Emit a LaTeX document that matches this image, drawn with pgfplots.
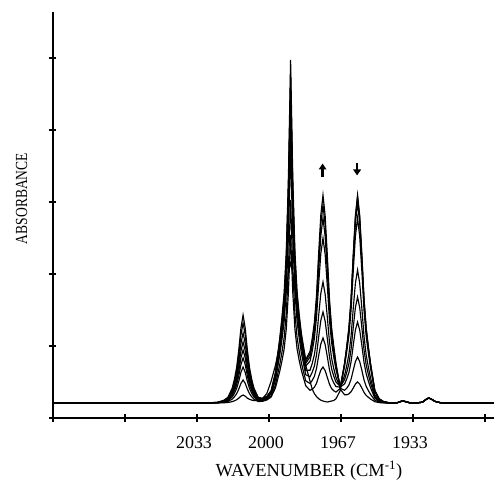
\documentclass[border=0pt]{standalone}
\usepackage{fontspec}
\setmainfont{Liberation Serif}
\usepackage{pgfplots}
\pgfplotsset{compat=1.18}
\usepackage{pgfplotstable}
\usetikzlibrary{arrows.meta}

% IR spectra series, baseline offset 15
\pgfplotstableread{
wn   k0    k1    k2    k3    k4    k5    k6    k7    k8
2100 15    15    15    15    15    15    15    15    15
2030 15    15    15    15    15    15    15    15    15
2024 15    15.2  15.3  15.3  15.4  15.4  15.5  15.6  15.6
2021 15.2  15.7  16.1  16.4  16.6  16.8  17.1  17.4  17.6
2019 15.5  16.5  17.3  17.9  18.4  19.0  19.6  20.2  20.7
2017 16.4  18.9  21.1  22.7  24.0  25.4  26.9  28.6  30.0
2016 17.2  21.2  24.7  27.2  29.3  31.5  33.9  36.6  38.8
2015 18.2  24.2  29.4  33.0  36.2  39.4  43.0  47.0  50.2
2014 19.8  28.8  36.6  42.0  46.8  51.6  57.0  63.0  67.8
2013 21.8  34.6  45.6  53.3  60.0  66.9  74.5  83.0  89.8
2012 23    38    51    60    68    76    85    95    103
2011 21.8  34.6  45.6  53.3  60.0  66.9  74.5  83.0  89.8
2010 19.8  28.8  36.6  42.0  46.8  51.6  57.0  63.0  67.8
2009 18.7  24.2  29.4  33.0  36.2  39.4  43.0  47.0  50.2
2008 17.9  21.2  24.7  27.2  29.3  31.5  33.9  36.6  38.8
2007 17.4  18.9  21.1  22.7  24.0  25.4  26.9  28.6  30.0
2005 17.5  16.5  17.3  17.9  18.4  19.0  19.6  20.2  20.7
2003 19.5  16.7  17.3  17.9  18.3  18.6  19.0  19.4  19.7
2001 24.5  18.0  18.6  19.5  20.1  20.5  20.8  21.3  21.6
1999 36.8  21.0  22.2  24.1  25.0  25.7  26.3  26.9  27.4
1997 52.8  30.1  33.3  37.8  40.2  42.0  43.4  44.7  45.9
1995 73.8  46.9  53.6  63.1  68.2  72.0  74.9  77.7  80.2
1994 89.2  57.0  65.8  78.3  85.0  90.0  93.8  97.5  100.8
1993 110.2 68.8  80.0  96.0  104.6 111.0 115.8 120.6 124.8
1992 129.8 88.9  104.3 126.3 138.2 147.0 153.6 160.2 165.9
1991 145.2 125.9 149.0 182.0 199.8 213.0 222.9 232.8 241.4
1990 155   183   218   268   295   315   330   345   358
1989 145.2 125.9 149.0 182.0 199.8 213.0 222.9 232.8 241.4
1988 129.8 89.0  104.6 126.7 138.7 147.7 154.3 161.0 166.7
1987 110.2 69.1  80.5  96.6  105.4 112.2 117.1 122.0 126.3
1986 89.2  57.4  66.6  79.4  86.5  92.0  96.0  99.9  103.3
1985 73.8  47.6  54.9  64.9  70.6  75.3  78.6  81.7  84.4
1983 52.8  32.3  37.2  43.3  47.5  51.9  54.5  56.6  58.4
1981 36.8  27.7  34.5  41.2  47.8  56.9  61.2  64.2  66.5
1980 29.0  28.7  37.5  45.7  54.4  66.8  72.6  76.4  79.4
1979 24.4  30.7  41.6  51.8  63.1  79.2  86.6  91.6  95.4
1978 21.4  34.7  49.5  63.0  78.3  100.5 110.7 117.3 122.4
1977 19.3  41.6  62.4  81.1  102.6 134.0 148.3 157.6 164.8
1976 17.8  47.9  74.1  97.7  124.7 164.4 182.4 194.2 203.2
1975 17.0  51    80    106   136   180   200   213   223
1974 16.4  47.4  73.5  96.9  123.9 163.5 181.5 193.2 202.2
1973 16.0  40.6  61.2  79.6  100.9 132.2 146.4 155.6 162.7
1972 16.5  33.8  48.3  61.2  76.0  97.9  107.8 114.2 119.1
1971 17.0  29.4  39.8  49.1  59.5  75.1  82.2  86.6  90.0
1970 17.5  27.2  35.0  41.8  49.3  60.9  66.0  69.1  71.5
1969 19.2  25.9  31.4  36.0  40.7  48.5  51.8  53.5  54.9
1967 27.5  29.6  30.9  31.6  30.3  31.3  31.0  29.7  28.8
1965 54.5  54.8  54.3  52.0  42.7  38.4  34.1  27.7  23.2
1964 71.2  71.0  69.8  66.1  52.4  45.6  39.1  29.8  23.2
1963 89.9  89.5  87.5  82.2  63.7  54.4  45.5  33.0  24.1
1962 119.0 118.1 115.3 107.9 82.0  68.7  56.2  38.8  26.3
1961 162.7 161.3 157.0 146.4 109.4 90.3  72.5  47.7  29.9
1960 202.2 200.4 195.0 181.5 134.7 110.4 87.9  56.4  33.9
1959 223   221   215   200   148   121   96    61    36
1958 202.2 200.4 195.0 181.5 134.7 110.4 87.9  56.4  33.9
1957 162.7 161.3 157.0 146.4 109.4 90.3  72.5  47.7  29.9
1956 119.0 118.0 115.0 107.5 81.5  68.0  55.5  38.0  25.5
1955 89.9  89.2  87.0  81.6  62.9  53.2  44.2  31.6  22.6
1954 71.2  70.6  69.0  65.0  50.9  43.6  36.9  27.4  20.7
1953 54.5  54.1  53.0  50.2  40.3  35.1  30.4  23.7  19.0
1951 27.5  27.4  27.0  26.1  23.0  21.4  19.9  17.8  16.3
1949 19.2  19.1  19.0  18.7  17.7  17.1  16.6  15.9  15.4
1947 16.5  16.4  16.4  16.3  15.9  15.7  15.6  15.3  15.1
1944 15    15    15    15    15    15    15    15    15
1941 15    15    15    15    15    15    15    15    15
1939 16.5  16.5  16.5  16.5  16.5  16.5  16.5  16.5  16.5
1938 17    17    17    17    17    17    17    17    17
1937 16.5  16.5  16.5  16.5  16.5  16.5  16.5  16.5  16.5
1935 15.3  15.3  15.3  15.3  15.3  15.3  15.3  15.3  15.3
1932 15    15    15    15    15    15    15    15    15
1929 15.8  15.8  15.8  15.8  15.8  15.8  15.8  15.8  15.8
1927 19    19    19    19    19    19    19    19    19
1926 20    20    20    20    20    20    20    20    20
1925 19    19    19    19    19    19    19    19    19
1923 16.5  16.5  16.5  16.5  16.5  16.5  16.5  16.5  16.5
1920 15    15    15    15    15    15    15    15    15
1896 15    15    15    15    15    15    15    15    15
}\spectra

\begin{document}
\begin{tikzpicture}
\useasboundingbox (0,0) rectangle (494bp,481bp);
\begin{axis}[
    at={(53bp,63bp)}, anchor=south west,
    scale only axis, width=441bp, height=406bp,
    x dir=reverse, xmin=1895.83, xmax=2100,
    ymin=0, ymax=406,
    axis x line=bottom, axis y line=left,
    axis line style={-, line width=1.8bp},
    xtick={1900,1933.33,1966.67,2000,2033.33,2066.67,2100},
    xticklabels={,1933,1967,2000,2033,,},
    ytick={0,72,144,216,288,360},
    yticklabels={},
    tick align=center,
    major tick length=7bp,
    every tick/.style={black, line width=1.4bp},
    /pgf/number format/assume math mode=true,
    xticklabel style={font=\fontsize{18}{20}\selectfont, anchor=base, yshift=-27bp, xshift=-3bp},
    clip=true,
  ]
  \pgfplotsinvokeforeach{0,...,8}{
    \addplot[black, line width=1.15bp] table[x=wn, y=k#1] {\spectra};
  }
  \draw[line width=2.2bp, -{Triangle[length=6bp, width=7.5bp]}]
    (axis cs:1975.2,241.3) -- (axis cs:1975.2,254.5);
  \draw[line width=2.2bp, -{Triangle[length=6bp, width=7.5bp]}]
    (axis cs:1959.2,255.2) -- (axis cs:1959.2,242.5);
\end{axis}
\node[rotate=90, anchor=base, font=\fontsize{17}{20}\selectfont]
  at (27bp,282.5bp) {\scalebox{0.8}[1]{ABSORBANCE}};
\node[anchor=base, font=\fontsize{18.5}{20}\selectfont]
  at (309bp,5bp) {WAVENUMBER (CM\textsuperscript{-1})};
\end{tikzpicture}
\end{document}
